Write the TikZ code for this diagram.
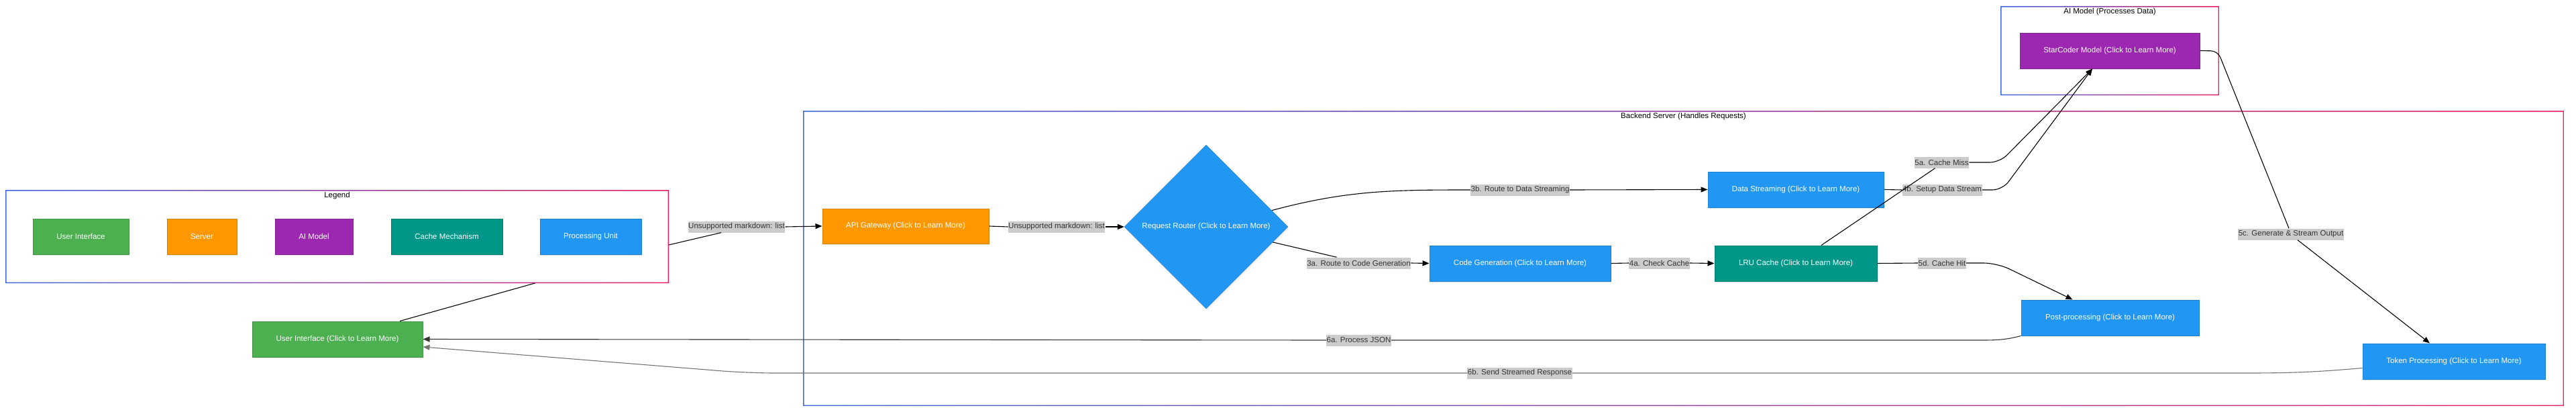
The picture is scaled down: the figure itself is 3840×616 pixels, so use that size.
\documentclass[tikz,border=0pt]{standalone}
\usepackage{fontspec}
\setmainfont{Liberation Sans}
\usetikzlibrary{shapes.geometric,arrows.meta,shadows}
\definecolor{uigreen}{HTML}{4CAF50}
\definecolor{srvorange}{HTML}{FF9800}
\definecolor{aipurple}{HTML}{9C27B0}
\definecolor{cacheteal}{HTML}{009688}
\definecolor{procblue}{HTML}{2196F3}
\definecolor{frameleft}{HTML}{4169E1}
\definecolor{frameright}{HTML}{E91E63}
\definecolor{lblgray}{HTML}{CCCCCC}
\definecolor{lbltext}{HTML}{333333}

\begin{document}
\begin{tikzpicture}[x=1pt,y=1pt,
  every node/.style={font=\fontsize{11.5}{13}\selectfont},
  box/.style={draw=#1!85!black,fill=#1,text=white,minimum height=53pt,inner sep=0pt,line width=1pt,
    drop shadow={opacity=0.18,shadow xshift=1pt,shadow yshift=-2pt}},
  frame/.style={minimum width=#1,inner sep=0pt,outer sep=0pt},
  lbl/.style={fill=lblgray,text=lbltext,inner xsep=0.5pt,inner ysep=0pt,minimum height=17pt},
  edge/.style={line width=1.1pt},
  arr/.style={line width=1.1pt,-{Triangle[length=10pt,width=8pt]}}]

\fill[white] (0,0) rectangle (3840,-616);
\useasboundingbox (0,0) rectangle (3840,-616);

\node[frame=989pt,minimum height=139pt] (legend) at (502.5,-352.5) {};
\node[frame=2625pt,minimum height=440pt] (backend) at (2509.5,-385) {};
\node[frame=326pt,minimum height=133pt] (aimodel) at (3145,-75.5) {};
\foreach \f in {legend,backend,aimodel}
  \shade[left color=frameleft,right color=frameright,even odd rule]
    (\f.south west) rectangle (\f.north east)
    ([shift={(1.5,1.5)}]\f.south west) rectangle ([shift={(-1.5,-1.5)}]\f.north east);

\node (legtitle) at (502.5,-292) {Legend};
\node (betitle) at (2509.5,-174) {Backend Server (Handles Requests)};
\node (aititle) at (3145,-18) {AI Model (Processes Data)};

\node[box=uigreen,minimum width=143pt] (keyui) at (120.5,-352.5) {User Interface};
\node[box=srvorange,minimum width=104pt] (keysrv) at (301,-352.5) {Server};
\node[box=aipurple,minimum width=116pt] (keyai) at (468,-352.5) {AI Model};
\node[box=cacheteal,minimum width=166pt] (keycache) at (666,-352.5) {Cache Mechanism};
\node[box=procblue,minimum width=151pt] (keyproc) at (880.5,-352.5) {Processing Unit};

\node[box=uigreen,minimum width=254pt] (ui) at (503,-505.5) {User Interface (Click to Learn More)};
\node[box=srvorange,minimum width=248pt,minimum height=52pt] (api) at (1350,-337) {API Gateway (Click to Learn More)};
\node[diamond,aspect=1,draw=procblue!85!black,fill=procblue,text=white,minimum width=244pt,minimum height=244pt,inner sep=0pt,
  drop shadow={opacity=0.18,shadow xshift=1pt,shadow yshift=-2pt}] (router) at (1798,-338) {Request Router (Click to Learn More)};
\node[box=procblue,minimum width=270pt] (codegen) at (2266,-392.5) {Code Generation (Click to Learn More)};
\node[box=procblue,minimum width=262pt] (stream) at (2677,-282.5) {Data Streaming (Click to Learn More)};
\node[box=cacheteal,minimum width=242pt] (lru) at (2677,-392.5) {LRU Cache (Click to Learn More)};
\node[box=procblue,minimum width=265pt] (post) at (3145.5,-473.5) {Post-processing (Click to Learn More)};
\node[box=aipurple,minimum width=268pt] (starcoder) at (3145,-75.5) {StarCoder Model (Click to Learn More)};
\node[box=procblue,minimum width=272pt] (token) at (3658,-538.5) {Token Processing (Click to Learn More)};

\node[lbl] (l1) at (1098,-338) {Unsupported markdown: list};
\node[lbl] (l2) at (1575,-338) {Unsupported markdown: list};
\node[lbl] (l3a) at (2025.5,-392) {3a. Route to Code Generation};
\node[lbl] (l3b) at (2266,-283) {3b. Route to Data Streaming};
\node[lbl] (l4a) at (2473.5,-392) {4a. Check Cache};
\node[lbl] (l4b) at (2895,-283) {4b. Setup Data Stream};
\node[lbl] (l5a) at (2894.5,-242) {5a. Cache Miss};
\node[lbl] (l5c) at (3415,-349) {5c. Generate \& Stream Output};
\node[lbl] (l5d) at (2895,-392) {5d. Cache Hit};
\node[lbl] (l6a) at (2025.5,-507) {6a. Process JSON};
\node[lbl] (l6b) at (2265.5,-556) {6b. Send Streamed Response};

\draw[edge] ([yshift=-12.5pt]legend.east) -- ([xshift=-23pt]l1.south);
\draw[arr] (l1.east) -- (api.west);
\draw[edge] ([xshift=295pt]legend.south) -- ([xshift=93pt]ui.north);
\draw[edge] (api.east) -- (l2.west);
\draw[arr] (l2.east) -- (router.west);
\draw[edge] (router.14) to[out=15,in=180] (l3b.west);
\draw[arr] (l3b.east) -- (stream.west);
\draw[edge] (router.-13) -- ([xshift=-33pt]l3a.north);
\draw[arr] (l3a.east) -- (codegen.west);
\draw[edge] (codegen.east) -- (l4a.west);
\draw[arr] (l4a.east) -- (lru.west);
\draw[edge] (stream.east) -- (l4b.west);
\draw[arr,rounded corners=15pt] (l4b.east) -- (2985,-283) -- ([xshift=-26pt]starcoder.south);
\draw[edge] ([xshift=38pt]lru.north) -- ([xshift=-10pt]l5a.south);
\draw[arr,rounded corners=15pt] (l5a.east) -- (2981,-242) -- ([xshift=-26pt]starcoder.south);
\draw[edge] (lru.east) -- (l5d.west);
\draw[arr,rounded corners=20pt] (l5d.east) -- (2977,-392) -- ([xshift=-56pt]post.north);
\draw[edge,rounded corners=10pt] (starcoder.east) -- (3306,-76) -- ([xshift=-3pt]l5c.north);
\draw[arr] ([xshift=10pt]l5c.south) -- ([xshift=-36pt]token.north);
\draw[edge,black!80] (post.south west) to[out=195,in=0] (2950,-507) -- (l6a.east);
\draw[arr,black!80] (l6a.west) -- (ui.east);
\draw[edge,black!55] ([yshift=-10pt]token.west) to[out=185,in=0] (3350,-556) -- (l6b.east);
\draw[arr,black!55,rounded corners=40pt] (l6b.west) -- (1115,-556) -- ([yshift=-11.5pt]ui.east);

\end{tikzpicture}
\end{document}
